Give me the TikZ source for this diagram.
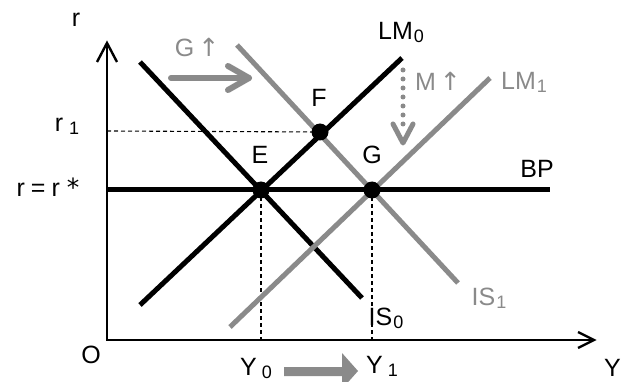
\documentclass[tikz,border=0pt]{standalone}
\usepackage{fontspec}
\setmainfont{Liberation Sans}
\newfontfamily\symfont{DejaVu Sans}
\definecolor{lg}{RGB}{138,138,138}
\newcommand{\lowsub}[1]{\hspace{1pt}\raisebox{-3pt}{\fontsize{18}{18}\selectfont #1}}
\begin{document}
\begin{tikzpicture}[x=1pt,y=-1pt,
  lbl/.style={inner sep=0pt, font=\fontsize{25}{25}\selectfont},
  glbl/.style={lbl, text=lg},
  bline/.style={line width=5pt, black},
  gline/.style={line width=5pt, lg},
  axis/.style={line width=2.4pt, black},
  guide/.style={line width=1.1pt, dash pattern=on 4pt off 3pt},
  dotnode/.style={circle, fill=black, inner sep=0pt, minimum size=17pt}]
\useasboundingbox (0,0) rectangle (621,382);
\fill[white] (0,0) rectangle (621,382);
% axes
\coordinate (O) at (107,340);
\coordinate (ytip) at (107,43);
\coordinate (xtip) at (594,340);
\draw[axis] (ytip) -- (O) -- (xtip);
\draw[axis, line join=miter] (97,62) -- (ytip) -- (117,62);
\draw[axis, line join=miter] (578,332) -- (xtip) -- (578,348);
% points
\coordinate (Ec) at (261,190);
\coordinate (Fc) at (320,132);
\coordinate (Gc) at (372,190);
% guides
\coordinate (r1a) at (107,131);
\coordinate (y0a) at (261,340);
\coordinate (y1a) at (372,340);
\draw[guide] (r1a) -- (Fc);
\draw[guide] (Ec) -- (y0a);
\draw[guide] (Gc) -- (y1a);
% curves
\coordinate (is0a) at (140,62);  \coordinate (is0b) at (362,298);
\coordinate (lm0a) at (140,305); \coordinate (lm0b) at (402,58);
\coordinate (is1a) at (237,45);  \coordinate (is1b) at (458,283);
\coordinate (lm1a) at (230,327); \coordinate (lm1b) at (490,78);
\coordinate (bpa) at (107,190);  \coordinate (bpb) at (550,190);
\draw[bline] (is0a) -- (is0b);
\draw[bline] (lm0a) -- (lm0b);
\draw[gline] (is1a) -- (is1b);
\draw[gline] (lm1a) -- (lm1b);
\draw[bline] (bpa) -- (bpb);
\node[dotnode] (E) at (Ec) {};
\node[dotnode] (F) at (Fc) {};
\node[dotnode] (G) at (Gc) {};
% shift arrows
\coordinate (ga) at (171,78); \coordinate (gb) at (249,78);
\draw[line width=6pt, lg, line cap=round] (ga) -- (gb);
\draw[line width=6pt, lg, line cap=round, line join=round] (228,66) -- (gb) -- (228,90);
\coordinate (ma) at (403,70); \coordinate (mb) at (403,143);
\draw[line width=5pt, lg, line cap=round, dash pattern=on 0pt off 9pt] (ma) -- (403,128);
\draw[line width=5pt, lg, line cap=round, line join=round] (393,124) -- (mb) -- (413,124);
\fill[lg] (284,367) -- (342,367) -- (342,353) -- (358,371) -- (342,389) -- (342,376) -- (284,376) -- cycle;
% labels
\node[lbl] (lr) at (76,20) {r};
\node[lbl] (lr1) at (67,126) {r\hspace{5pt}\lowsub{1}};
\node[lbl] (lrr) at (48,187) {r\hspace{6pt}=\hspace{6pt}r\hspace{7pt}{\symfont*}};
\node[lbl] (lO) at (91,355) {O};
\node[lbl] (lE) at (260,155) {E};
\node[lbl] (lF) at (319,98) {F};
\node[lbl] (lG) at (372,155) {G};
\node[lbl] (lBP) at (537,169) {BP};
\node[lbl] (lLM0) at (401,32) {LM\lowsub{0}};
\node[glbl] (lLM1) at (524,82) {LM\lowsub{1}};
\node[glbl] (lM) at (438,81) {M\hspace{4pt}{\symfont↑}};
\node[glbl] (lG2) at (197,47) {G\hspace{4pt}{\symfont↑}};
\node[lbl] (lIS0) at (386,318) {IS\lowsub{0}};
\node[glbl] (lIS1) at (489,298) {IS\lowsub{1}};
\node[lbl, anchor=west] (lY0) at (240,368) {Y\hspace{4pt}\lowsub{0}};
\node[lbl, anchor=west] (lY1) at (366,366) {Y\hspace{4pt}\lowsub{1}};
\node[lbl, anchor=east] (lY) at (621,368) {Y};
\end{tikzpicture}
\end{document}
